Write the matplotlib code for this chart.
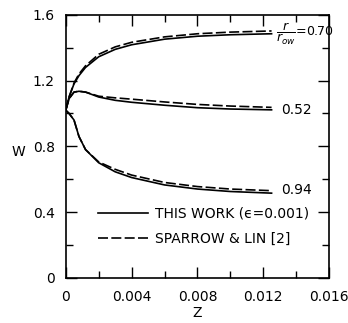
import matplotlib
matplotlib.use("Agg")
import matplotlib.pyplot as plt
from matplotlib.ticker import MultipleLocator, FixedFormatter, FixedLocator

# axial position Z
z = [0, 0.0002, 0.0005, 0.0008, 0.0012, 0.002, 0.003, 0.004, 0.006, 0.008, 0.010, 0.0125]

# r/r_ow = 0.70
w70_this = [1.02, 1.10, 1.18, 1.23, 1.28, 1.345, 1.39, 1.418, 1.452, 1.470, 1.479, 1.485]
w70_sl = [1.02, 1.10, 1.185, 1.24, 1.29, 1.36, 1.405, 1.433, 1.466, 1.485, 1.495, 1.502]

# r/r_ow = 0.52
w52_this = [1.02, 1.09, 1.13, 1.135, 1.13, 1.10, 1.08, 1.068, 1.05, 1.035, 1.027, 1.022]
w52_sl = [1.02, 1.09, 1.13, 1.135, 1.13, 1.105, 1.095, 1.087, 1.07, 1.055, 1.045, 1.037]

# r/r_ow = 0.94
w94_this = [1.02, 1.00, 0.96, 0.86, 0.78, 0.70, 0.645, 0.61, 0.565, 0.54, 0.525, 0.515]
w94_sl = [1.02, 1.00, 0.96, 0.86, 0.78, 0.705, 0.66, 0.625, 0.58, 0.555, 0.54, 0.53]

xticks = [0, 0.004, 0.008, 0.012, 0.016]
xtick_labels = ["0", "0.004", "0.008", "0.012", "0.016"]
yticks = [0, 0.4, 0.8, 1.2, 1.6]
ytick_labels = ["0", "0.4", "0.8", "1.2", "1.6"]

fig = plt.figure(figsize=(3.48, 3.23), dpi=100)
ax = fig.add_axes([0.189, 0.140, 0.757, 0.814])

lw = 1.2
dash = (6, 2)
l1, = ax.plot(z, w70_this, color="black", lw=lw, label="THIS WORK (ϵ=0.001)")
l2, = ax.plot(z, w70_sl, color="black", lw=lw, dashes=dash, label="SPARROW & LIN [2]")
ax.plot(z, w52_this, color="black", lw=lw)
ax.plot(z, w52_sl, color="black", lw=lw, dashes=dash)
ax.plot(z, w94_this, color="black", lw=lw)
ax.plot(z, w94_sl, color="black", lw=lw, dashes=dash)

ax.set_xlim(0, 0.016)
ax.set_ylim(0, 1.6)
ax.xaxis.set_major_locator(FixedLocator(xticks))
ax.xaxis.set_major_formatter(FixedFormatter(xtick_labels))
ax.xaxis.set_minor_locator(MultipleLocator(0.002))
ax.yaxis.set_major_locator(FixedLocator(yticks))
ax.yaxis.set_major_formatter(FixedFormatter(ytick_labels))
ax.yaxis.set_minor_locator(MultipleLocator(0.2))
ax.tick_params(which="both", direction="in", top=True, right=True, width=1.0, labelsize=10)
ax.tick_params(which="major", length=8)
ax.tick_params(which="minor", length=5)
ax.tick_params(axis="y", pad=8)
ax.tick_params(axis="x", pad=9)
for s in ax.spines.values():
    s.set_linewidth(1.2)

ax.text(-0.18, 0.479, "W", transform=ax.transAxes, fontsize=10, ha="center", va="center")
ax.text(0.5, -0.135, "Z", transform=ax.transAxes, fontsize=10, ha="center", va="center")

# curve labels
ax.text(0.01275, w70_this[-1], r"$\dfrac{r}{r_{ow}}$=0.70", fontsize=9, va="center", ha="left")
ax.text(0.0131, w52_this[-1], "0.52", fontsize=10, va="center", ha="left")
ax.text(0.0131, w94_this[-1] + 0.02, "0.94", fontsize=10, va="center", ha="left")

ax.legend(handles=[l1, l2], loc="center left", bbox_to_anchor=(0.123, 0.197),
          frameon=False, fontsize=10, handlelength=3.6, handletextpad=0.5,
          borderpad=0, borderaxespad=0, labelspacing=0.8)

fig.savefig("out.png", dpi=100)
